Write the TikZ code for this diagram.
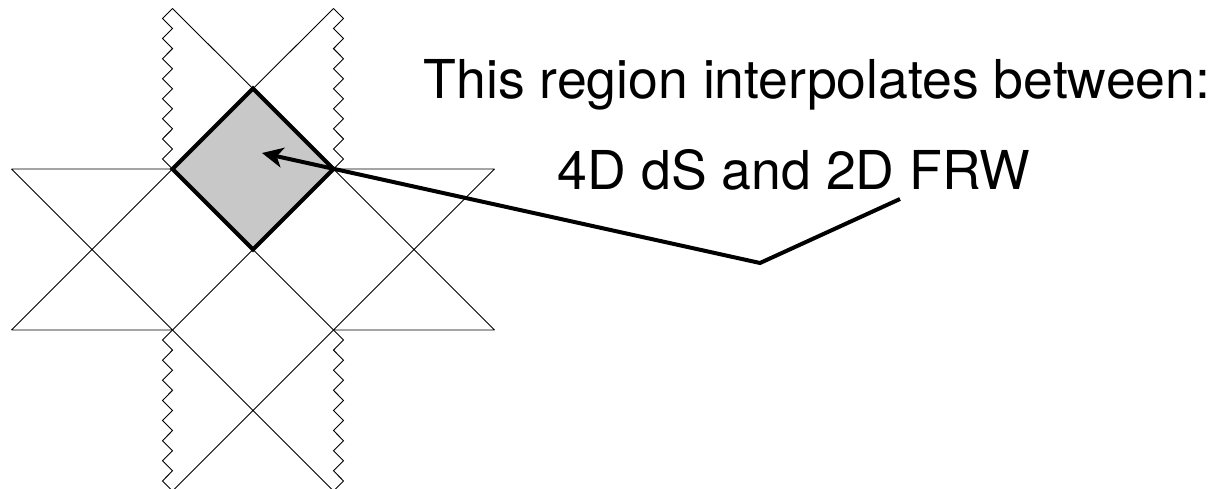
\documentclass[tikz,border=0pt]{standalone}
\usepackage{fontspec}
\setmainfont{TeX Gyre Heros}
\usetikzlibrary{arrows.meta}
\definecolor{regiongray}{RGB}{200,200,200}
\tikzset{
  thinline/.style={line width=0.9pt, black},
  regionbox/.style={line width=4pt, black, fill=regiongray, line join=miter},
  pointer/.style={line width=4pt, black, line join=miter,
    -{Stealth[length=21pt,width=20pt,inset=6pt]}},
  label/.style={inner sep=0pt, anchor=base, font=\fontsize{53.6}{60}\selectfont},
}
\begin{document}
\begin{tikzpicture}[x=1pt,y=-1pt]
\useasboundingbox (0,0) rectangle (1227,489);
% key coordinates
\coordinate (L1) at (172.5,169);
\coordinate (R1) at (333.5,169);
\coordinate (L2) at (172.5,330);
\coordinate (R2) at (333.5,330);
\coordinate (LT) at (172.5,8.5);
\coordinate (RT) at (333.5,8.5);
\coordinate (LB) at (172.5,491);
\coordinate (RB) at (333.5,491);
\coordinate (OL1) at (11.5,169);
\coordinate (OL2) at (11.5,330);
\coordinate (OR1) at (494.5,169);
\coordinate (OR2) at (494.5,330);
\coordinate (top) at (253,88.5);
\coordinate (bot) at (253,249.5);
% left block
\draw[thinline] (OL1) -- (L1) (OL2) -- (L2) (OL1) -- (L2) (OL2) -- (L1);
% right block
\draw[thinline] (OR1) -- (R1) (OR2) -- (R2) (OR1) -- (R2) (OR2) -- (R1);
% central X
\draw[thinline] (L1) -- (R2) (R1) -- (L2);
% upper X
\draw[thinline] (LT) -- (R1) (RT) -- (L1);
% lower X
\draw[thinline] (L2) -- (RB) (R2) -- (LB);
% zigzag singularities
\draw[thinline] (LT) \foreach \i in {0,...,7} { -- ++(-10,10.03) -- ++(10,10.03) };
\draw[thinline] (RT) \foreach \i in {0,...,7} { -- ++(10,10.03) -- ++(-10,10.03) };
\draw[thinline] (L2) \foreach \i in {0,...,7} { -- ++(-10,10.06) -- ++(10,10.06) };
\draw[thinline] (R2) \foreach \i in {0,...,7} { -- ++(10,10.06) -- ++(-10,10.06) };
% highlighted region
\draw[regionbox] (L1) -- (top) -- (R1) -- (bot) -- cycle;
% pointer
\coordinate (pstart) at (900,199);
\coordinate (pknee) at (760,263);
\coordinate (ptip) at (262,153);
\draw[pointer] (pstart) -- (pknee) -- (ptip);
% text
\node[label] (t1) at (817,99) {This region interpolates between:};
\node[label] (t2) at (794,190) {4D dS and 2D FRW};
\end{tikzpicture}
\end{document}
